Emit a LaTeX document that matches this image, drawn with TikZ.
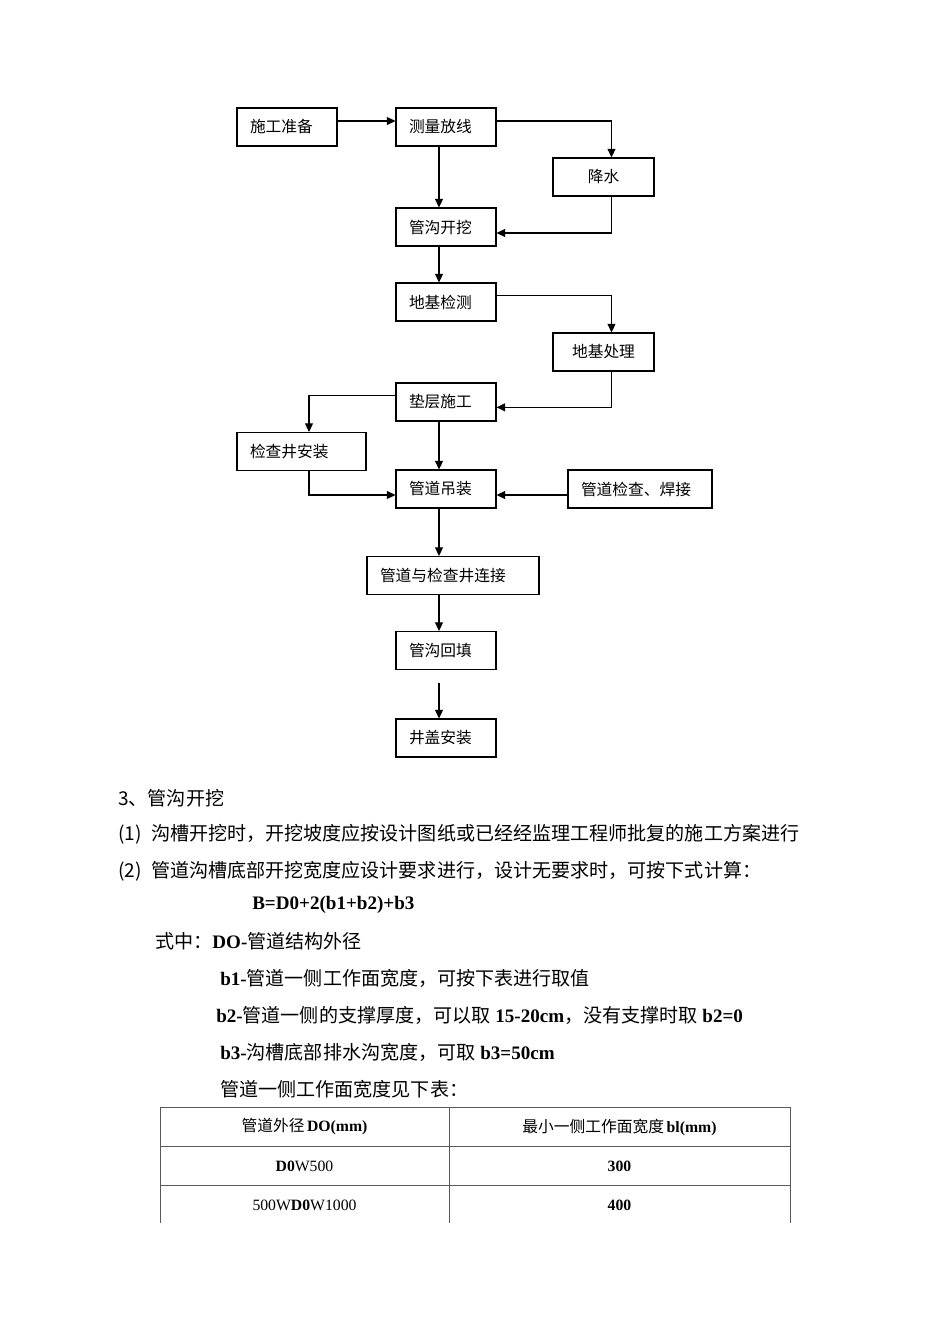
\documentclass[tikz,border=0pt]{standalone}
\usepackage{fontspec}
\setmainfont{Liberation Serif}
\newfontfamily\cjk{Noto Sans CJK SC}
\usetikzlibrary{arrows.meta}

\begin{document}
\begin{tikzpicture}[x=0.75pt,y=0.75pt,yscale=-1,
  box/.style={draw, line width=0.8pt, minimum height=28.5pt, inner xsep=9.75pt, text width=#1, align=left, font=\cjk\fontsize{11.8}{14}\selectfont},
  cbox/.style={box=#1, align=center},
  arr/.style={line width=0.9pt, -{Triangle[length=6.5pt,width=6pt]}},
  line/.style={anchor=west, inner sep=0pt, font=\fontsize{14.3}{17}\selectfont},
  cell/.style={inner sep=0pt, font=\fontsize{11.8}{14}\selectfont},
  grid/.style={draw=black!65, line width=0.7pt}]
\useasboundingbox (0,0) rectangle (950,1344);

%Shape: Flow boxes
\draw (287,127) node [box=55.5pt] (prep) {施工准备};
\draw (446,127) node [box=55.5pt] (survey) {测量放线};
\draw (603.5,177) node [cbox=56.25pt] (dewater) {降水};
\draw (446,227) node [box=55.5pt] (trench) {管沟开挖};
\draw (446,302) node [box=55.5pt] (check) {地基检测};
\draw (603.5,352) node [cbox=56.25pt] (treat) {地基处理};
\draw (446,402) node [box=55.5pt] (cushion) {垫层施工};
\draw (301.5,451.5) node [box=77.25pt] (well) {检查井安装};
\draw (446,489) node [box=55.5pt] (lift) {管道吊装};
\draw (640,489) node [box=88.5pt] (weld) {管道检查、焊接};
\draw (453,575.5) node [box=109.5pt] (connect) {管道与检查井连接};
\draw (446,650.5) node [box=55.5pt] (backfill) {管沟回填};
\draw (446,738) node [box=55.5pt] (cover) {井盖安装};

\coordinate (spine) at (439,0);
\coordinate (rbr) at (611.5,0);
\coordinate (lbr) at (309,0);
\coordinate (gap) at (439,683);

%Straight Lines
\draw [arr] ([yshift=-4.5pt]prep.east) -- ([yshift=-4.5pt]survey.west);
\draw [arr] (survey.south -| spine) -- (trench.north -| spine);
\draw [arr] ([yshift=-4.5pt]survey.east) -| (dewater.north -| rbr);
\draw [arr] (dewater.south -| rbr) |- ([yshift=4.5pt]trench.east);
\draw [arr] (trench.south -| spine) -- (check.north -| spine);
\draw [arr] ([yshift=-5pt]check.east) -| (treat.north -| rbr);
\draw [arr] (treat.south -| rbr) |- ([yshift=4pt]cushion.east);
\draw [arr] (cushion.south -| spine) -- (lift.north -| spine);
\draw [arr] ([yshift=-5pt]cushion.west) -| (well.north -| lbr);
\draw [arr] (well.south -| lbr) |- ([yshift=4.5pt]lift.west);
\draw [arr] ([yshift=4.5pt]weld.west) -- ([yshift=4.5pt]lift.east);
\draw [arr] (lift.south -| spine) -- (connect.north -| spine);
\draw [arr] (connect.south -| spine) -- (backfill.north -| spine);
\draw [arr] (gap) -- (cover.north -| spine);

% Text Node
\draw (118,798) node [line] (head) {\cjk 3、管沟开挖};
% Text Node
\draw (118,834) node [line] (item1) {\cjk (1)\hspace{7pt}沟槽开挖时，开挖坡度应按设计图纸或已经经监理工程师批复的施工方案进行};
% Text Node
\draw (118,871) node [line] (item2) {\cjk (2)\hspace{7pt}管道沟槽底部开挖宽度应设计要求进行，设计无要求时，可按下式计算：};
% Text Node
\draw (252,905) node [line] (formula) {\bfseries B=D0+2(b1+b2)+b3};
% Text Node
\draw (155,941) node [line] (where) {{\cjk 式中：}\textbf{DO-}{\cjk 管道结构外径}};
% Text Node
\draw (220,978) node [line] (bone) {\textbf{b1-}{\cjk 管道一侧工作面宽度，可按下表进行取值}};
% Text Node
\draw (216,1015) node [line] (btwo) {\textbf{b2-}{\cjk 管道一侧的支撑厚度，可以取} \textbf{15-20cm}{\cjk ，没有支撑时取} \textbf{b2=0}};
% Text Node
\draw (220,1052) node [line] (bthree) {\textbf{b3-}{\cjk 沟槽底部排水沟宽度，可取} \textbf{b3=50cm}};
% Text Node
\draw (220,1089) node [line] (seetab) {\cjk 管道一侧工作面宽度见下表：};

%Shape: Table
\draw [grid] (160,1223) -- (160,1107) -- (790,1107) -- (790,1223);
\draw [grid] (449,1107) -- (449,1223);
\draw [grid] (160,1146) -- (790,1146);
\draw [grid] (160,1185) -- (790,1185);

% Text Node
\draw (304.5,1127) node [cell] (h1) {{\cjk 管道外径}\,\textbf{DO(mm)}};
% Text Node
\draw (619.5,1127) node [cell] (h2) {{\cjk 最小一侧工作面宽度}\,\textbf{bl(mm)}};
% Text Node
\draw (304.5,1166) node [cell] (r1a) {\textbf{D0}W500};
% Text Node
\draw (619.5,1166) node [cell] (r1b) {\textbf{300}};
% Text Node
\draw (304.5,1205) node [cell] (r2a) {500W\textbf{D0}W1000};
% Text Node
\draw (619.5,1205) node [cell] (r2b) {\textbf{400}};

\end{tikzpicture}
\end{document}
